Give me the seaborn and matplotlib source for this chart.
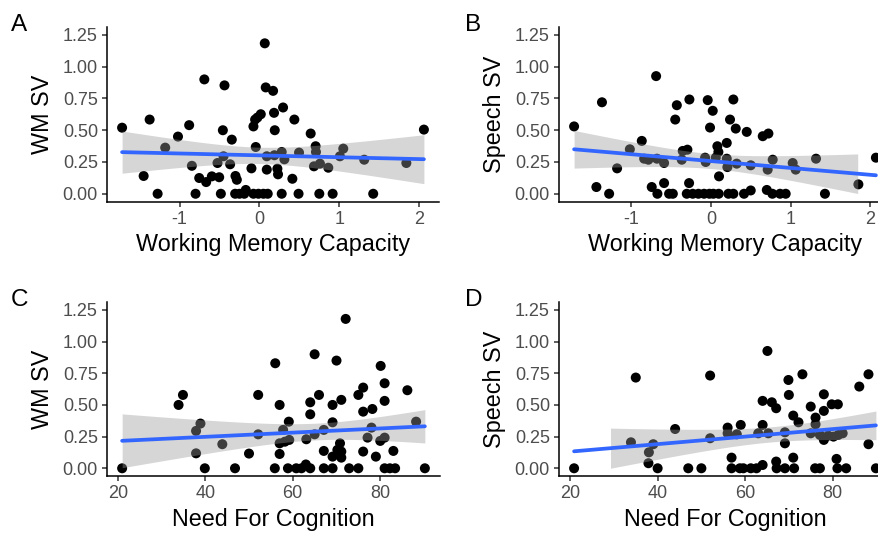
import numpy as np
import pandas as pd
import seaborn as sns
import matplotlib
matplotlib.use("Agg")
import matplotlib.pyplot as plt
from matplotlib.ticker import FixedLocator, FormatStrFormatter

# ---------------- data ----------------
wmc_a = [-1.72, -1.375, -1.45, -1.275, -1.18, -1.02, -0.88, -0.846, -0.80, -0.754, -0.69, -0.667,
         -0.596, -0.504, -0.525, -0.458, -0.4375, -0.45, -0.483, -0.367, -0.346, -0.30, -0.283,
         -0.304, -0.25, -0.171, -0.19, -0.10, -0.075, -0.054, -0.025, 0.017, -0.046, -0.075,
         -0.0125, 0.05, 0.104, 0.067, 0.079, 0.171, 0.183, 0.192, 0.296, 0.092, 0.092, 0.1875,
         0.225, 0.233, 0.279, 0.3125, 0.279, 0.4125, 0.4375, 0.49, 0.496, 0.642, 0.704, 0.708,
         0.683, 0.758, 0.8625, 0.75, 0.917, 1.008, 1.05, 1.3125, 1.425, 1.84, 2.06]
wm_sv_a = [0.52, 0.584, 0.14, 0, 0.363, 0.45, 0.54, 0.22, 0, 0.124, 0.9, 0.092, 0.137, 0.13, 0.242,
           0.5, 0.853, 0.295, 0, 0.232, 0.426, 0.14, 0.11, 0, 0, 0.03, 0, 0.2, 0.53, 0.584, 0.6,
           0.626, 0.368, 0, 0, 0, 0, 1.184, 0.837, 0.81, 0.637, 0.5, 0.679, 0.295, 0.19, 0.303,
           0.197, 0.153, 0.329, 0.271, 0, 0.118, 0.584, 0, 0.324, 0.474, 0.374, 0.329, 0.216,
           0.237, 0.205, 0, 0, 0.295, 0.355, 0.268, 0, 0.242, 0.505]

wmc_b = [-1.72, -1.44, -1.37, -1.28, -1.18, -1.02, -0.87, -0.84, -0.787, -0.69, -0.68, -0.745,
         -0.674, -0.59, -0.59, -0.527, -0.48, -0.45, -0.43, -0.368, -0.356, -0.297, -0.272, -0.276,
         -0.305, -0.23, -0.159, -0.088, -0.021, 0.029, 0.096, -0.075, -0.067, -0.042, -0.013,
         0.021, 0.079, 0.092, 0.10, 0.059, 0.197, 0.197, 0.205, 0.238, 0.28, 0.31, 0.322, 0.218,
         0.28, 0.414, 0.498, 0.448, 0.498, 0.649, 0.72, 0.70, 0.77, 0.866, 0.937, 0.711, 0.774,
         1.025, 1.063, 1.318, 1.43, 1.85, 2.07]
speech_sv_b = [0.53, 0.053, 0.72, 0, 0.2, 0.35, 0.416, 0.276, 0.268, 0.926, 0.276, 0.053, 0, 0.242,
               0.084, 0, 0, 0.584, 0.697, 0.268, 0.337, 0.347, 0.742, 0.084, 0, 0, 0, 0, 0, 0, 0,
               0.284, 0.25, 0.737, 0.521, 0.653, 0.374, 0.329, 0.137, 0.284, 0.4, 0.276, 0.21,
               0.584, 0.742, 0.513, 0.237, 0, 0, 0, 0.026, 0.487, 0.224, 0.453, 0.474, 0.03, 0, 0,
               0, 0.19, 0.268, 0.242, 0.19, 0.276, 0, 0.074, 0.284]

nfc_c = [21, 33.9, 34.9, 37.9, 38.9, 37.9, 39.9, 43.9, 46.8, 50, 52.1, 52.1, 56, 55.9, 57, 57, 57,
         57.8, 58.2, 59.1, 59.2, 58.9, 60.8, 62, 63, 64, 63.1, 64, 64, 65, 65, 66, 67.1, 67.1, 67.1,
         69.1, 69.1, 69.1, 70, 69.1, 70.2, 70.8, 71.1, 71.1, 71.1, 72.1, 72.9, 75, 75, 76.1, 76.1,
         76.1, 77.1, 78, 78.2, 79, 80.1, 80, 81, 81, 81, 81, 82.2, 83.4, 83, 86.2, 88.2, 90.2]
wm_sv_c = [0, 0.5, 0.579, 0.295, 0.353, 0.118, 0, 0.19, 0, 0.116, 0.579, 0.268, 0.829, 0, 0.5,
           0.197, 0.113, 0.303, 0.21, 0.368, 0.224, 0, 0, 0, 0.03, 0, 0.229, 0.521, 0.426, 0.9,
           0.268, 0.579, 0.303, 0.137, 0, 0, 0.5, 0.363, 0.85, 0.092, 0.145, 0.197, 0.132, 0.084,
           0.54, 1.179, 0, 0, 0.579, 0.637, 0.447, 0.132, 0.242, 0.321, 0.468, 0.092, 0.808,
           0.216, 0.671, 0.532, 0.242, 0, 0, 0, 0.137, 0.616, 0.368, 0]

nfc_d = [20.9, 33.9, 35, 38, 39, 37.9, 40, 44, 47, 50, 52, 52, 56, 56, 56.9, 58.1, 59, 56.9, 58.8,
         59.6, 61.3, 62.6, 64, 63, 64, 64, 65.1, 65.3, 66.1, 67.1, 67.1, 67.2, 69.1, 71.2, 69.1,
         69.1, 69.9, 70, 71, 71, 72.2, 73.1, 75, 75, 76.1, 76.1, 77.1, 78, 78, 78, 76, 77.1, 79,
         79.8, 81.2, 80.2, 81.3, 82.3, 80.9, 81.1, 83.1, 86.1, 88.2, 88.2, 89.9]
speech_sv_d = [0, 0.205, 0.716, 0.126, 0.19, 0.04, 0, 0.31, 0, 0, 0.732, 0.237, 0.321, 0.276,
               0.084, 0.268, 0.342, 0, 0, 0, 0, 0, 0.026, 0.276, 0.342, 0.532, 0.926, 0.276,
               0.521, 0.474, 0.053, 0, 0, 0, 0.284, 0.197, 0.697, 0.579, 0.416, 0.084, 0.363,
               0.742, 0.487, 0.276, 0.4, 0.347, 0.263, 0.584, 0.453, 0.224, 0, 0, 0.258, 0.505,
               0.505, 0.25, 0.263, 0.276, 0.074, 0, 0, 0.645, 0.742, 0.19, 0]

panel_letters = ["A", "B", "C", "D"]
x_titles = ["Working Memory Capacity", "Working Memory Capacity", "Need For Cognition", "Need For Cognition"]
y_titles = ["WM SV", "Speech SV", "WM SV", "Speech SV"]
wmc_ticks = [-1, 0, 1, 2]
nfc_ticks = [20, 40, 60, 80]
sv_ticks = [0.0, 0.25, 0.5, 0.75, 1.0, 1.25]

# ---------------- style ----------------
sns.set_theme(style="ticks")
plt.rcParams["font.family"] = ["Liberation Sans", "DejaVu Sans"]

W, H = 879, 535
fig = plt.figure(figsize=(W / 100, H / 100), dpi=100)

def px_axes(left, top, right, bottom):
    return fig.add_axes([left / W, 1 - bottom / H, (right - left) / W, (bottom - top) / H])

boxes = [(107, 27, 439, 201.7), (559, 27, 891, 201.7),
         (107, 302, 440, 476.2), (559, 302, 891, 476.2)]
letter_pos = [(11, 31), (465, 31), (11, 306), (465, 306)]

panels = [(wmc_a, wm_sv_a, wmc_ticks), (wmc_b, speech_sv_b, wmc_ticks),
          (nfc_c, wm_sv_c, nfc_ticks), (nfc_d, speech_sv_d, nfc_ticks)]

BLUE = "#3366FF"
RIBBON = "#999999"

for i, ((xs, ys, xt), box) in enumerate(zip(panels, boxes)):
    ax = px_axes(*box)
    df = pd.DataFrame({"x": xs, "y": ys})
    sns.scatterplot(data=df, x="x", y="y", ax=ax, color="black", s=52,
                    edgecolor="none", linewidth=0, zorder=2, legend=False)
    # analytic 95% CI for lm fit (as in ggplot geom_smooth)
    x = np.asarray(xs, float); y = np.asarray(ys, float)
    n = len(x)
    b1, b0 = np.polyfit(x, y, 1)
    resid = y - (b0 + b1 * x)
    s = np.sqrt(np.sum(resid ** 2) / (n - 2))
    grid = np.linspace(x.min(), x.max(), 200)
    fit = b0 + b1 * grid
    se = s * np.sqrt(1 / n + (grid - x.mean()) ** 2 / np.sum((x - x.mean()) ** 2))
    z = 1.959964; nu = n - 2
    tq = z + (z ** 3 + z) / (4 * nu) + (5 * z ** 5 + 16 * z ** 3 + 3 * z) / (96 * nu ** 2)
    lo, hi = fit - tq * se, fit + tq * se
    ok = (lo >= 0) & (hi <= 1.25)
    ax.fill_between(grid, lo, hi, where=ok, color=RIBBON, alpha=0.4, linewidth=0, zorder=3)
    sns.regplot(data=df, x="x", y="y", ax=ax, scatter=False, ci=None, truncate=True,
                line_kws=dict(color=BLUE, lw=2.7, zorder=4))

    rng = x.max() - x.min()
    ax.set_xlim(x.min() - 0.05 * rng, x.max() + 0.05 * rng)
    ax.set_ylim(-0.0625, 1.3125)
    ax.xaxis.set_major_locator(FixedLocator(xt))
    ax.yaxis.set_major_locator(FixedLocator(sv_ticks))
    ax.yaxis.set_major_formatter(FormatStrFormatter("%.2f"))
    ax.xaxis.set_major_formatter(FormatStrFormatter("%g"))
    for sp in ["top", "right"]:
        ax.spines[sp].set_visible(False)
    for sp in ["left", "bottom"]:
        ax.spines[sp].set_color("black")
        ax.spines[sp].set_linewidth(1.1)
    ax.tick_params(axis="both", colors="#333333", labelcolor="#4D4D4D",
                   labelsize=13, length=3.5, width=1.1, pad=3)
    ax.set_xlabel(x_titles[i], fontsize=16.8, color="black", labelpad=4)
    ax.set_ylabel(y_titles[i], fontsize=16.8, color="black", labelpad=6)
    ax.grid(False)
    fig.text(letter_pos[i][0] / W, 1 - letter_pos[i][1] / H, panel_letters[i],
             fontsize=17.5, color="black", ha="left", va="baseline")

fig.savefig("out.png", dpi=100)
